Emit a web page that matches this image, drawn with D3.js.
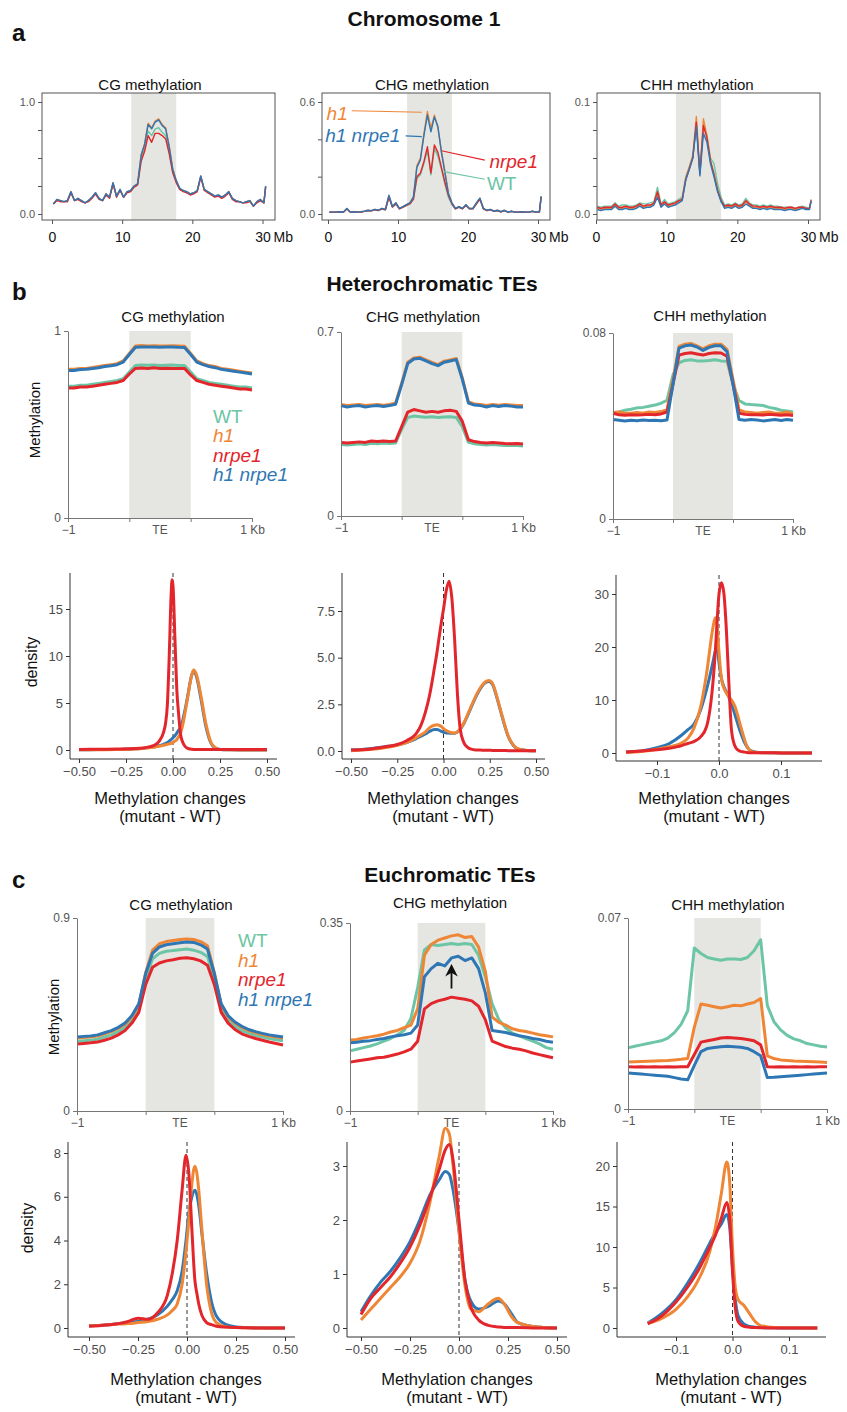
<!DOCTYPE html>
<html><head><meta charset="utf-8">
<script src="https://cdn.jsdelivr.net/npm/d3@7/dist/d3.min.js"></script>
<style>html,body{margin:0;padding:0;background:#fff}</style>
</head><body>
<svg id="fig" width="847" height="1412" xmlns="http://www.w3.org/2000/svg"></svg>
<script>
// ================= DATA =================
const genotypes = ["WT", "h1", "nrpe1", "h1 nrpe1"];
const genoColors = ["#6cc5a5", "#ef8636", "#e3262c", "#2f77b4"];

// ---- a: chromosome 1 profiles (bins in Mb) ----
const chrTicksMb = [0, 10, 20, 30];
const centromereMb = [11.3, 17.7];
const chrBinMb = d3.range(61).map(i => 0.2 + 0.5 * i).concat([30.45]);

const chrCG_WT = [0.09,0.12,0.12,0.11,0.12,0.19,0.12,0.13,0.12,0.10, 0.12,0.15,0.18,0.14,0.12,0.17,0.15,0.27,0.16,0.21, 0.15,0.20,0.20,0.24,0.26,0.49,0.58,0.74,0.70,0.76, 0.77,0.73,0.70,0.56,0.38,0.29,0.22,0.21,0.19,0.18, 0.19,0.20,0.33,0.22,0.19,0.18,0.16,0.16,0.15,0.17, 0.19,0.14,0.12,0.11,0.10,0.11,0.12,0.07,0.11,0.12, 0.10,0.24];
const chrCG_h1 = [0.09,0.13,0.12,0.11,0.12,0.20,0.12,0.14,0.12,0.10, 0.12,0.15,0.19,0.14,0.12,0.18,0.15,0.28,0.16,0.22, 0.15,0.20,0.21,0.25,0.27,0.53,0.63,0.81,0.77,0.83, 0.85,0.80,0.77,0.61,0.41,0.30,0.23,0.21,0.20,0.18, 0.19,0.21,0.34,0.22,0.20,0.18,0.16,0.17,0.15,0.17, 0.20,0.14,0.12,0.11,0.10,0.11,0.12,0.07,0.11,0.13, 0.10,0.25];
const chrCG_nrpe1 = [0.09,0.12,0.11,0.11,0.11,0.19,0.12,0.13,0.11,0.10, 0.11,0.14,0.18,0.13,0.12,0.17,0.14,0.27,0.15,0.21, 0.15,0.19,0.20,0.24,0.26,0.47,0.56,0.70,0.64,0.72, 0.72,0.70,0.67,0.54,0.37,0.28,0.22,0.20,0.19,0.17, 0.18,0.20,0.33,0.21,0.19,0.17,0.15,0.16,0.14,0.16, 0.19,0.13,0.11,0.11,0.10,0.10,0.11,0.07,0.10,0.12, 0.10,0.24];
const chrCG_h1nrpe1 = [0.09,0.13,0.12,0.11,0.12,0.20,0.12,0.14,0.12,0.10, 0.12,0.15,0.19,0.14,0.12,0.18,0.15,0.28,0.16,0.22, 0.15,0.20,0.21,0.25,0.27,0.52,0.62,0.80,0.76,0.82, 0.84,0.79,0.76,0.60,0.40,0.30,0.23,0.21,0.20,0.18, 0.19,0.21,0.34,0.22,0.20,0.18,0.16,0.17,0.15,0.17, 0.20,0.14,0.12,0.11,0.10,0.11,0.12,0.07,0.11,0.13, 0.10,0.25];

const chrCHG_WT = [0.01,0.01,0.01,0.011,0.01,0.027,0.01,0.011,0.01,0.011, 0.014,0.018,0.017,0.022,0.018,0.027,0.022,0.088,0.036,0.053, 0.027,0.036,0.045,0.053,0.078,0.19,0.21,0.27,0.34,0.21, 0.35,0.31,0.24,0.16,0.09,0.05,0.027,0.036,0.027,0.045, 0.027,0.027,0.053,0.078,0.027,0.018,0.022,0.014,0.018,0.011, 0.018,0.01,0.014,0.01,0.01,0.011,0.01,0.01,0.014,0.01, 0.011,0.088];
const chrCHG_h1 = [0.01,0.01,0.01,0.012,0.01,0.03,0.01,0.012,0.01,0.012, 0.015,0.02,0.018,0.025,0.02,0.03,0.025,0.10,0.04,0.06, 0.03,0.04,0.05,0.06,0.09,0.26,0.30,0.43,0.55,0.46, 0.53,0.46,0.34,0.23,0.11,0.06,0.03,0.04,0.03,0.05, 0.03,0.03,0.06,0.085,0.03,0.02,0.025,0.015,0.02,0.012, 0.02,0.01,0.015,0.01,0.01,0.012,0.01,0.01,0.015,0.01, 0.012,0.095];
const chrCHG_nrpe1 = [0.01,0.01,0.01,0.011,0.01,0.028,0.01,0.011,0.01,0.011, 0.014,0.018,0.017,0.023,0.019,0.028,0.023,0.09,0.037,0.055, 0.028,0.037,0.046,0.055,0.08,0.20,0.22,0.28,0.36,0.22, 0.37,0.33,0.25,0.17,0.10,0.055,0.028,0.037,0.028,0.046, 0.028,0.028,0.055,0.08,0.028,0.018,0.023,0.014,0.018,0.011, 0.018,0.01,0.014,0.01,0.01,0.011,0.01,0.01,0.014,0.01, 0.011,0.09];
const chrCHG_h1nrpe1 = [0.01,0.01,0.01,0.012,0.01,0.03,0.01,0.012,0.01,0.012, 0.015,0.02,0.018,0.025,0.02,0.03,0.025,0.10,0.04,0.06, 0.03,0.04,0.05,0.06,0.09,0.25,0.29,0.42,0.53,0.44, 0.52,0.47,0.33,0.22,0.11,0.06,0.03,0.04,0.03,0.05, 0.03,0.03,0.06,0.085,0.03,0.02,0.025,0.015,0.02,0.012, 0.02,0.01,0.015,0.01,0.01,0.012,0.01,0.01,0.015,0.01, 0.012,0.095];

const chrCHH_WT = [0.007,0.006,0.007,0.007,0.007,0.010,0.007,0.008,0.008,0.007, 0.007,0.008,0.010,0.009,0.009,0.010,0.011,0.024,0.009,0.013, 0.009,0.010,0.011,0.013,0.015,0.033,0.042,0.052,0.080,0.038, 0.078,0.070,0.050,0.045,0.027,0.015,0.008,0.009,0.008,0.010, 0.008,0.009,0.014,0.010,0.008,0.008,0.007,0.008,0.007,0.008, 0.007,0.007,0.006,0.006,0.006,0.006,0.005,0.006,0.007,0.006, 0.005,0.012];
const chrCHH_h1 = [0.005,0.004,0.005,0.005,0.005,0.008,0.005,0.005,0.006,0.005, 0.005,0.006,0.008,0.006,0.007,0.007,0.009,0.017,0.007,0.010, 0.007,0.008,0.009,0.011,0.013,0.032,0.042,0.052,0.087,0.036, 0.085,0.070,0.048,0.036,0.022,0.012,0.006,0.007,0.006,0.008, 0.006,0.007,0.011,0.008,0.006,0.006,0.005,0.006,0.005,0.006, 0.005,0.005,0.005,0.004,0.005,0.005,0.004,0.005,0.006,0.005, 0.005,0.013];
const chrCHH_nrpe1 = [0.006,0.005,0.006,0.006,0.006,0.009,0.006,0.006,0.007,0.006, 0.006,0.007,0.009,0.007,0.008,0.008,0.010,0.020,0.008,0.011, 0.008,0.009,0.010,0.012,0.013,0.031,0.040,0.050,0.082,0.036, 0.079,0.068,0.047,0.035,0.021,0.012,0.007,0.008,0.007,0.009, 0.007,0.008,0.012,0.009,0.007,0.007,0.006,0.007,0.006,0.007, 0.006,0.006,0.006,0.005,0.006,0.006,0.005,0.006,0.006,0.005, 0.005,0.012];
const chrCHH_h1nrpe1 = [0.004,0.003,0.004,0.004,0.004,0.007,0.004,0.004,0.005,0.004, 0.004,0.005,0.007,0.005,0.006,0.006,0.008,0.015,0.006,0.009, 0.006,0.007,0.008,0.010,0.012,0.030,0.040,0.050,0.078,0.034, 0.072,0.064,0.045,0.033,0.020,0.011,0.005,0.006,0.005,0.007, 0.005,0.006,0.009,0.007,0.005,0.005,0.004,0.005,0.004,0.005, 0.004,0.004,0.004,0.003,0.004,0.004,0.003,0.004,0.005,0.004, 0.004,0.012];

// ---- b/c: TE metaplots (bins: 0-1 upstream, 1-2 TE body, 2-3 downstream) ----
const metaBinPos = d3.range(31).map(i => i / 10);
const metaTickLabels = ["\u22121", "", "", "1 Kb"];

const metaHetCG_WT = [0.705,0.705,0.71,0.71,0.715,0.72,0.725,0.73,0.735,0.745, 0.78,0.815,0.818,0.817,0.818,0.816,0.817,0.818,0.816,0.815, 0.78,0.745,0.735,0.725,0.72,0.715,0.71,0.705,0.70,0.70,0.695];
const metaHetCG_h1 = [0.795,0.795,0.80,0.80,0.805,0.81,0.815,0.82,0.825,0.84, 0.88,0.92,0.922,0.92,0.921,0.92,0.92,0.921,0.92,0.918, 0.88,0.84,0.825,0.815,0.81,0.80,0.795,0.79,0.785,0.78,0.775];
const metaHetCG_nrpe1 = [0.695,0.695,0.70,0.70,0.705,0.71,0.715,0.72,0.725,0.735, 0.77,0.80,0.802,0.80,0.803,0.80,0.801,0.80,0.80,0.80, 0.765,0.735,0.725,0.715,0.71,0.705,0.70,0.695,0.69,0.69,0.685];
const metaHetCG_h1nrpe1 = [0.789,0.789,0.794,0.795,0.799,0.804,0.81,0.814,0.82,0.834, 0.874,0.913,0.915,0.914,0.915,0.913,0.914,0.915,0.913,0.912, 0.874,0.834,0.82,0.81,0.804,0.795,0.79,0.785,0.78,0.775,0.77];

const metaHetCHG_WT = [0.272,0.27,0.272,0.275,0.272,0.277,0.275,0.278,0.276,0.278, 0.33,0.375,0.38,0.378,0.376,0.378,0.375,0.377,0.378,0.375, 0.34,0.28,0.275,0.272,0.27,0.272,0.27,0.268,0.268,0.268,0.266];
const metaHetCHG_h1 = [0.424,0.42,0.422,0.424,0.42,0.422,0.424,0.421,0.424,0.43, 0.505,0.585,0.601,0.604,0.594,0.584,0.576,0.589,0.594,0.599, 0.525,0.435,0.426,0.424,0.42,0.424,0.421,0.424,0.422,0.42,0.42];
const metaHetCHG_nrpe1 = [0.28,0.278,0.28,0.282,0.28,0.285,0.283,0.285,0.283,0.285, 0.34,0.395,0.405,0.40,0.395,0.398,0.395,0.40,0.402,0.398, 0.36,0.29,0.283,0.28,0.278,0.28,0.278,0.276,0.275,0.276,0.274];
const metaHetCHG_h1nrpe1 = [0.42,0.415,0.418,0.42,0.415,0.418,0.42,0.417,0.42,0.425, 0.50,0.58,0.597,0.60,0.59,0.58,0.572,0.585,0.59,0.595, 0.52,0.43,0.422,0.42,0.415,0.42,0.417,0.42,0.418,0.415,0.415];

const metaHetCHH_WT = [0.0455,0.046,0.0468,0.0472,0.0478,0.048,0.0485,0.049,0.0498,0.051, 0.062,0.0672,0.0682,0.0685,0.068,0.068,0.0682,0.0685,0.068,0.0678, 0.058,0.051,0.0495,0.0492,0.049,0.0488,0.048,0.0475,0.0468,0.0465,0.046];
const metaHetCHH_h1 = [0.0458,0.046,0.0455,0.0455,0.0458,0.0455,0.046,0.0458,0.0462,0.047, 0.06,0.0742,0.0752,0.0755,0.0745,0.0732,0.0745,0.0752,0.0752,0.073, 0.06,0.047,0.046,0.0458,0.0455,0.0458,0.046,0.0455,0.0455,0.046,0.0452];
const metaHetCHH_nrpe1 = [0.0455,0.0448,0.0446,0.0448,0.0447,0.0448,0.045,0.0448,0.0452,0.046, 0.058,0.0705,0.0712,0.0715,0.071,0.0705,0.0712,0.0715,0.0714,0.070, 0.058,0.0455,0.045,0.0448,0.0448,0.0447,0.045,0.0448,0.0446,0.0448,0.0445];
const metaHetCHH_h1nrpe1 = [0.0428,0.0425,0.0422,0.0425,0.0423,0.0426,0.0424,0.0425,0.0423,0.0426, 0.058,0.0735,0.0745,0.0748,0.074,0.0725,0.0738,0.0745,0.0745,0.072, 0.058,0.0428,0.0425,0.0428,0.0426,0.0422,0.0425,0.0428,0.0424,0.0428,0.0425];

const metaEuCG_WT = [0.325,0.328,0.33,0.335,0.345,0.355,0.37,0.39,0.425,0.48, 0.62,0.71,0.735,0.745,0.748,0.752,0.755,0.75,0.74,0.72, 0.62,0.48,0.425,0.395,0.375,0.362,0.352,0.345,0.338,0.332,0.328];
const metaEuCG_h1 = [0.34,0.343,0.345,0.35,0.36,0.37,0.385,0.405,0.44,0.495, 0.645,0.75,0.78,0.79,0.795,0.80,0.802,0.80,0.79,0.77, 0.645,0.495,0.44,0.41,0.39,0.375,0.365,0.357,0.35,0.345,0.34];
const metaEuCG_nrpe1 = [0.312,0.315,0.318,0.322,0.33,0.34,0.355,0.375,0.41,0.46, 0.59,0.67,0.69,0.70,0.705,0.712,0.715,0.71,0.70,0.68, 0.59,0.46,0.41,0.38,0.36,0.348,0.338,0.33,0.322,0.315,0.308];
const metaEuCG_h1nrpe1 = [0.345,0.348,0.35,0.355,0.365,0.375,0.39,0.41,0.445,0.50, 0.64,0.735,0.765,0.775,0.78,0.785,0.788,0.786,0.775,0.755, 0.64,0.50,0.445,0.415,0.395,0.38,0.37,0.362,0.355,0.35,0.345];

const metaEuCHG_WT = [0.112,0.115,0.118,0.121,0.125,0.13,0.135,0.142,0.15,0.172, 0.23,0.30,0.31,0.308,0.31,0.312,0.31,0.312,0.31,0.29, 0.25,0.20,0.17,0.155,0.145,0.14,0.135,0.13,0.125,0.118,0.115];
const metaEuCHG_h1 = [0.132,0.133,0.136,0.138,0.14,0.143,0.147,0.15,0.155,0.16, 0.19,0.29,0.31,0.318,0.322,0.326,0.328,0.323,0.325,0.305, 0.26,0.175,0.165,0.16,0.153,0.15,0.148,0.145,0.142,0.14,0.138];
const metaEuCHG_nrpe1 = [0.091,0.093,0.095,0.097,0.099,0.10,0.103,0.106,0.11,0.115, 0.13,0.19,0.20,0.205,0.208,0.212,0.21,0.208,0.205,0.195, 0.17,0.13,0.125,0.12,0.117,0.115,0.112,0.108,0.105,0.102,0.099];
const metaEuCHG_h1nrpe1 = [0.127,0.128,0.13,0.131,0.133,0.135,0.138,0.14,0.142,0.145, 0.16,0.25,0.265,0.275,0.27,0.285,0.288,0.28,0.285,0.265, 0.22,0.15,0.148,0.146,0.143,0.14,0.138,0.135,0.133,0.13,0.128];

const metaEuCHH_WT = [0.0224,0.023,0.0235,0.024,0.0245,0.025,0.026,0.028,0.031,0.036, 0.059,0.057,0.0555,0.055,0.0545,0.055,0.055,0.0548,0.0555,0.058, 0.062,0.038,0.032,0.029,0.027,0.0257,0.025,0.024,0.0235,0.023,0.0227];
const metaEuCHH_h1 = [0.0172,0.0173,0.0174,0.0175,0.0176,0.0177,0.0178,0.018,0.0182,0.0185, 0.03,0.0385,0.038,0.0375,0.037,0.0375,0.038,0.0378,0.0385,0.039, 0.0405,0.0195,0.0185,0.018,0.0178,0.0176,0.0175,0.0174,0.0173,0.0172,0.017];
const metaEuCHH_nrpe1 = [0.0155,0.0154,0.0155,0.0154,0.0155,0.0154,0.0155,0.0154,0.0155,0.0155, 0.02,0.0245,0.025,0.0255,0.026,0.0262,0.026,0.0258,0.0255,0.025, 0.0235,0.0155,0.0154,0.0155,0.0154,0.0155,0.0154,0.0155,0.0154,0.0155,0.0155];
const metaEuCHH_h1nrpe1 = [0.0132,0.013,0.0128,0.0126,0.0124,0.0122,0.012,0.0115,0.011,0.0107, 0.016,0.021,0.0222,0.0225,0.0228,0.023,0.0228,0.0226,0.0222,0.021, 0.0195,0.0115,0.0116,0.0118,0.012,0.0122,0.0124,0.0126,0.0128,0.013,0.0132];

// ---- b/c: density of methylation change (mutant - WT) ----
const densHetCG_x = [-0.5,-0.4,-0.3,-0.2,-0.15,-0.1,-0.075,-0.05,-0.04,-0.03,-0.02,-0.01,-0.005,0,0.01,0.02,0.03,0.04,0.05,0.06,0.075,0.1,0.11,0.125,0.15,0.175,0.2,0.225,0.25,0.3,0.4,0.5];
const densHetCG_h1 = [0.02,0.03,0.05,0.1,0.2,0.3,0.4,0.5,0.55,0.6,0.65,0.7,0.75,0.8,0.95,1.1,1.4,1.8,2.5,3.5,5.2,8.0,8.5,8.0,5.6,2.8,0.9,0.25,0.06,0.02,0.01,0.01];
const densHetCG_nrpe1 = [0.05,0.08,0.1,0.15,0.25,0.5,0.9,1.9,2.8,4.8,10,16.5,18.1,17.5,12,6.5,3.8,1.7,0.9,0.5,0.2,0.08,0.06,0.05,0.05,0.05,0.05,0.05,0.05,0.05,0.05,0.05];
const densHetCG_h1nrpe1 = [0.02,0.04,0.06,0.12,0.2,0.35,0.45,0.6,0.7,0.8,0.95,1.1,1.2,1.3,1.5,1.8,2.1,2.4,3.0,3.9,5.4,8.0,8.4,7.8,5.3,2.5,0.8,0.2,0.05,0.02,0.01,0.01];

const densHetCHG_x = [-0.5,-0.4,-0.3,-0.25,-0.2,-0.15,-0.125,-0.1,-0.075,-0.05,-0.035,-0.025,-0.01,0,0.015,0.03,0.045,0.06,0.075,0.09,0.11,0.13,0.15,0.175,0.2,0.225,0.245,0.265,0.28,0.3,0.325,0.35,0.375,0.4,0.45,0.5];
const densHetCHG_h1 = [0.02,0.08,0.2,0.3,0.45,0.7,0.85,1.0,1.25,1.38,1.4,1.38,1.3,1.2,1.1,1.02,0.98,0.97,1.03,1.18,1.5,1.95,2.4,2.95,3.4,3.7,3.78,3.62,3.2,2.5,1.6,0.8,0.35,0.12,0.03,0.01];
const densHetCHG_nrpe1 = [0.05,0.1,0.25,0.35,0.55,0.9,1.3,2.0,3.0,4.4,5.3,6.0,7.0,7.6,8.6,9.1,8.2,6.0,3.1,1.2,0.45,0.2,0.1,0.06,0.05,0.04,0.04,0.03,0.03,0.03,0.03,0.02,0.02,0.02,0.02,0.02];
const densHetCHG_h1nrpe1 = [0.05,0.12,0.25,0.32,0.45,0.65,0.78,0.9,1.05,1.15,1.15,1.12,1.05,1.0,0.97,0.96,0.95,0.95,1.01,1.16,1.47,1.9,2.35,2.9,3.35,3.65,3.72,3.57,3.15,2.45,1.55,0.78,0.33,0.11,0.03,0.01];

const densHetCHH_x = [-0.15,-0.125,-0.1,-0.08,-0.06,-0.05,-0.04,-0.03,-0.02,-0.01,-0.006,-0.003,0,0.004,0.008,0.012,0.016,0.02,0.025,0.03,0.035,0.04,0.045,0.05,0.06,0.08,0.1,0.15];
const densHetCHH_h1 = [0.1,0.3,0.7,1.2,1.9,2.8,4.8,8.5,15,23.5,25.5,24,19,14,12.2,11.3,10.6,10.0,9.0,7.2,5.0,3.0,1.3,0.45,0.1,0.03,0.02,0.01];
const densHetCHH_nrpe1 = [0.2,0.4,0.6,0.9,1.4,1.8,2.2,3.0,5.0,13,19,25,30,32.1,30,23,13,4.5,1.5,0.6,0.3,0.2,0.1,0.06,0.05,0.03,0.02,0.01];
const densHetCHH_h1nrpe1 = [0.2,0.4,1.0,1.8,3.4,4.4,5.5,8,12,17,19.2,20,17,14,12.5,11.5,10.5,9.3,7.5,5.6,3.8,2.3,1.2,0.5,0.15,0.04,0.02,0.01];

const densEuCG_x = [-0.5,-0.45,-0.4,-0.35,-0.3,-0.25,-0.2,-0.15,-0.1,-0.075,-0.05,-0.025,-0.005,0.01,0.025,0.04,0.05,0.06,0.075,0.1,0.125,0.15,0.2,0.25,0.3,0.4,0.5];
const densEuCG_h1 = [0.1,0.12,0.15,0.18,0.2,0.25,0.3,0.4,0.6,0.8,1.1,2.0,3.5,5.0,6.6,7.4,7.1,6.3,4.6,2.0,0.7,0.25,0.05,0.02,0.01,0,0];
const densEuCG_nrpe1 = [0.08,0.1,0.15,0.2,0.3,0.45,0.4,0.7,1.5,2.5,4.0,6.3,7.9,7.0,4.5,2.2,1.6,1.1,0.6,0.25,0.15,0.08,0.04,0.02,0.01,0,0];
const densEuCG_h1nrpe1 = [0.1,0.12,0.15,0.2,0.25,0.3,0.4,0.6,1.0,1.3,1.7,2.6,4.0,5.3,6.0,6.3,6.1,5.6,4.4,2.5,1.2,0.55,0.15,0.05,0.02,0,0];

const densEuCHG_x = [-0.5,-0.45,-0.4,-0.35,-0.3,-0.25,-0.2,-0.15,-0.1,-0.07,-0.05,-0.03,0,0.03,0.06,0.1,0.15,0.2,0.23,0.27,0.3,0.4,0.5];
const densEuCHG_h1 = [0.15,0.35,0.55,0.75,0.95,1.2,1.6,2.3,3.2,3.7,3.6,3.0,1.8,0.8,0.35,0.3,0.45,0.55,0.45,0.2,0.1,0.02,0];
const densEuCHG_nrpe1 = [0.25,0.55,0.75,0.95,1.2,1.5,1.9,2.4,2.95,3.3,3.4,3.1,2.0,0.9,0.4,0.15,0.05,0.02,0.01,0.01,0.01,0,0];
const densEuCHG_h1nrpe1 = [0.3,0.6,0.85,1.05,1.3,1.6,2.0,2.45,2.75,2.9,2.85,2.55,1.8,0.9,0.5,0.35,0.4,0.5,0.45,0.25,0.1,0.02,0];

const densEuCHH_x = [-0.15,-0.125,-0.1,-0.08,-0.06,-0.04,-0.03,-0.02,-0.01,-0.005,0,0.005,0.01,0.02,0.03,0.04,0.05,0.075,0.1,0.15];
const densEuCHH_h1 = [0.6,1.2,2.3,3.8,6.0,9.5,12.5,16.5,20.5,18,10,5.0,3.5,2.8,1.8,0.8,0.3,0.05,0.02,0];
const densEuCHH_nrpe1 = [0.5,1.5,3.2,5.0,7.2,10,11.5,13.5,15.5,13.5,7.0,2.5,0.8,0.2,0.1,0.05,0.03,0.01,0,0];
const densEuCHH_h1nrpe1 = [0.6,1.8,3.5,5.5,7.8,10.5,11.8,12.8,14,12.5,7.5,3.5,1.5,0.5,0.2,0.1,0.05,0.02,0,0];

// ================= DRAWING =================
const svg = d3.select("#fig");
const FONT = "'Liberation Sans', Arial, Helvetica, sans-serif";
const BAND = "#e5e6e1";
const colorOf = d3.scaleOrdinal().domain(genotypes).range(genoColors);

function addText(x, y, s, o = {}) {
  const t = svg.append("text").attr("x", x).attr("y", y).text(s)
    .attr("font-family", FONT).attr("font-size", o.size || 14)
    .attr("fill", o.fill || "#111").attr("text-anchor", o.anchor || "middle");
  if (o.weight) t.attr("font-weight", o.weight);
  if (o.italic) t.attr("font-style", "italic");
  if (o.rotate) t.attr("transform", `rotate(-90,${x},${y})`);
  return t;
}
function styleAxis(sel, o) {
  sel.attr("font-family", null).attr("font-size", null);
  if (o.removeDomain) sel.select(".domain").remove();
  else sel.select(".domain").attr("stroke", o.line || "#444");
  sel.selectAll(".tick line").attr("stroke", o.line || "#444");
  sel.selectAll(".tick text").attr("font-family", FONT).attr("font-size", o.size || 12).attr("fill", o.fill || "#555");
}

// headings
addText(424, 26, "Chromosome 1", {size: 21, weight: "bold"});
addText(12, 41, "a", {size: 24, weight: "bold", anchor: "start"});
addText(432, 291, "Heterochromatic TEs", {size: 21, weight: "bold"});
addText(12, 300, "b", {size: 24, weight: "bold", anchor: "start"});
addText(450, 882, "Euchromatic TEs", {size: 21, weight: "bold"});
addText(12, 888, "c", {size: 24, weight: "bold", anchor: "start"});

// ---------- a ----------
function chromPanel(p) {
  const top = 93, bot = 220;
  const x = d3.scaleLinear().domain([0, 30]).range([p.x0, p.x30]);
  const y = d3.scaleLinear().domain([0, p.ymax]).range([214, 102]);
  const g = svg.append("g");
  g.append("rect").attr("x", x(centromereMb[0])).attr("y", top)
    .attr("width", x(centromereMb[1]) - x(centromereMb[0])).attr("height", bot - top).attr("fill", BAND);
  const line = d3.line().x((d, i) => x(chrBinMb[i])).y(d => y(d));
  p.series.forEach((vals, k) => g.append("path").attr("d", line(vals)).attr("fill", "none")
    .attr("stroke", colorOf(genotypes[k])).attr("stroke-width", 1.4).attr("stroke-linejoin", "round"));
  g.append("rect").attr("x", p.box[0]).attr("y", top).attr("width", p.box[1] - p.box[0])
    .attr("height", bot - top).attr("fill", "none").attr("stroke", "#555").attr("stroke-width", 1);
  const ya = g.append("g").attr("transform", `translate(${p.box[0]},0)`)
    .call(d3.axisLeft(y).tickValues(p.yticks).tickSize(4).tickPadding(3)
      .tickFormat(d => (d === 0 || d === p.ymax) ? d3.format(".1f")(d) : ""));
  styleAxis(ya, {removeDomain: true, size: 11, fill: "#555", line: "#555"});
  const xa = g.append("g").attr("transform", `translate(0,${bot})`)
    .call(d3.axisBottom(x).tickValues(chrTicksMb).tickSize(4).tickPadding(8).tickFormat(d3.format("d")));
  styleAxis(xa, {removeDomain: true, size: 14, fill: "#111", line: "#555"});
  addText(x(30) + 11, bot + 22, "Mb", {size: 14, anchor: "start"});
  addText(p.titleX, 90, p.title, {size: 15});
  return {x, y};
}
chromPanel({title: "CG methylation", titleX: 150, box: [42, 275], x0: 52, x30: 262.5, ymax: 1.0,
  yticks: [0, 0.25, 0.5, 0.75, 1.0], series: [chrCG_WT, chrCG_h1, chrCG_nrpe1, chrCG_h1nrpe1]});
const chgA = chromPanel({title: "CHG methylation", titleX: 432, box: [322, 550], x0: 328, x30: 538, ymax: 0.6,
  yticks: [0, 0.2, 0.4, 0.6], series: [chrCHG_WT, chrCHG_h1, chrCHG_nrpe1, chrCHG_h1nrpe1]});
chromPanel({title: "CHH methylation", titleX: 697, box: [597, 820], x0: 596, x30: 808, ymax: 0.1,
  yticks: [0, 0.025, 0.05, 0.075, 0.1], series: [chrCHH_WT, chrCHH_h1, chrCHH_nrpe1, chrCHH_h1nrpe1]});

// annotation leaders in CHG panel (data units)
const chgLabels = [
  {g: "h1", tx: -0.2, ty: 0.505, anchor: "start", l: [[3.4, 0.553], [13.4, 0.545]]},
  {g: "h1 nrpe1", tx: -0.4, ty: 0.387, anchor: "start", l: [[11.1, 0.418], [13.4, 0.414]]},
  {g: "nrpe1", tx: 30.0, ty: 0.246, anchor: "end", l: [[16.2, 0.339], [22.4, 0.289]]},
  {g: "WT", tx: 22.7, ty: 0.129, anchor: "start", l: [[16.5, 0.227], [22.4, 0.186]]}
];
chgLabels.forEach(a => {
  svg.append("line").attr("x1", chgA.x(a.l[0][0])).attr("y1", chgA.y(a.l[0][1]))
    .attr("x2", chgA.x(a.l[1][0])).attr("y2", chgA.y(a.l[1][1]))
    .attr("stroke", colorOf(a.g)).attr("stroke-width", 1.2);
  addText(chgA.x(a.tx), chgA.y(a.ty), a.g, {size: 19, fill: colorOf(a.g), anchor: a.anchor, italic: a.g !== "WT"});
});

// ---------- metaplots ----------
function metaPanel(p) {
  const x = d3.scaleLinear().domain([0, 3]).range([p.x0, p.x1]);
  const y = d3.scaleLinear().domain([0, p.ymax]).range([p.y0, p.yTop]);
  const g = svg.append("g");
  g.append("rect").attr("x", x(1)).attr("y", p.yTop).attr("width", x(2) - x(1)).attr("height", p.y0 - p.yTop).attr("fill", BAND);
  const line = d3.line().x((d, i) => x(metaBinPos[i])).y(d => y(d));
  p.series.forEach((vals, k) => g.append("path").attr("d", line(vals)).attr("fill", "none")
    .attr("stroke", colorOf(genotypes[k])).attr("stroke-width", 3).attr("stroke-linejoin", "round"));
  const ya = g.append("g").attr("transform", `translate(${p.x0},0)`)
    .call(d3.axisLeft(y).tickValues([0, p.ymax]).tickSize(4).tickSizeOuter(0).tickPadding(3)
      .tickFormat(d => d === 0 ? "0" : p.ymaxLabel));
  styleAxis(ya, {size: 12, fill: "#555", line: "#777"});
  const xa = g.append("g").attr("transform", `translate(0,${p.y0})`)
    .call(d3.axisBottom(x).tickValues([0, 1, 2, 3]).tickSize(4).tickSizeOuter(0).tickPadding(3)
      .tickFormat((d, i) => metaTickLabels[i]));
  styleAxis(xa, {size: 12, fill: "#555", line: "#777"});
  addText(x(1.5), p.y0 + 16, "TE", {size: 12, fill: "#555"});
  addText(p.titleX, p.titleY, p.title, {size: 15});
  return {x, y};
}
function legend(x, y0, step) {
  genotypes.forEach((gname, i) => addText(x, y0 + i * step, gname,
    {size: 19, fill: colorOf(gname), anchor: "start", italic: gname !== "WT"}));
}

metaPanel({title: "CG methylation", titleX: 173, titleY: 322, x0: 68, x1: 252, y0: 518, yTop: 331, ymax: 1, ymaxLabel: "1",
  series: [metaHetCG_WT, metaHetCG_h1, metaHetCG_nrpe1, metaHetCG_h1nrpe1]});
metaPanel({title: "CHG methylation", titleX: 423, titleY: 322, x0: 341, x1: 523, y0: 516, yTop: 332, ymax: 0.7, ymaxLabel: "0.7",
  series: [metaHetCHG_WT, metaHetCHG_h1, metaHetCHG_nrpe1, metaHetCHG_h1nrpe1]});
metaPanel({title: "CHH methylation", titleX: 710, titleY: 321, x0: 613, x1: 793, y0: 519, yTop: 333, ymax: 0.08, ymaxLabel: "0.08",
  series: [metaHetCHH_WT, metaHetCHH_h1, metaHetCHH_nrpe1, metaHetCHH_h1nrpe1]});
addText(40, 420, "Methylation", {size: 15, rotate: true});
legend(213, 423, 19.3);

metaPanel({title: "CG methylation", titleX: 181, titleY: 910, x0: 77, x1: 283, y0: 1111, yTop: 918, ymax: 0.9, ymaxLabel: "0.9",
  series: [metaEuCG_WT, metaEuCG_h1, metaEuCG_nrpe1, metaEuCG_h1nrpe1]});
const euCHG = metaPanel({title: "CHG methylation", titleX: 450, titleY: 908, x0: 350, x1: 553, y0: 1111, yTop: 923, ymax: 0.35, ymaxLabel: "0.35",
  series: [metaEuCHG_WT, metaEuCHG_h1, metaEuCHG_nrpe1, metaEuCHG_h1nrpe1]});
metaPanel({title: "CHH methylation", titleX: 728, titleY: 910, x0: 628, x1: 827, y0: 1109, yTop: 918, ymax: 0.07, ymaxLabel: "0.07",
  series: [metaEuCHH_WT, metaEuCHH_h1, metaEuCHH_nrpe1, metaEuCHH_h1nrpe1]});
addText(59, 1017, "Methylation", {size: 15, rotate: true});
legend(238, 947, 19.6);

// arrow in euchromatic CHG
svg.append("defs").append("marker").attr("id", "ah").attr("viewBox", "0 0 10 10").attr("refX", 5).attr("refY", 5)
  .attr("markerWidth", 7).attr("markerHeight", 7).attr("orient", "auto-start-reverse")
  .append("path").attr("d", "M0,0 L10,5 L0,10 L3,5 z").attr("fill", "#111");
svg.append("line").attr("x1", euCHG.x(1.5)).attr("x2", euCHG.x(1.5))
  .attr("y1", euCHG.y(0.228)).attr("y2", euCHG.y(0.262)).attr("stroke", "#111").attr("stroke-width", 1.8)
  .attr("marker-end", "url(#ah)");

// ---------- densities ----------
function densPanel(p) {
  const x = d3.scaleLinear().domain(p.xdom).range(p.xr);
  const y = d3.scaleLinear().domain([0, p.yref]).range([p.yzero, p.yrefPx]);
  const g = svg.append("g");
  g.append("line").attr("x1", x(0)).attr("x2", x(0)).attr("y1", p.top).attr("y2", p.bot)
    .attr("stroke", "#333").attr("stroke-width", 1).attr("stroke-dasharray", "4,3");
  const line = d3.line().curve(d3.curveMonotoneX).x((d, i) => x(p.grid[i])).y(d => y(d));
  p.series.forEach(([gname, vals]) => g.append("path").attr("d", line(vals)).attr("fill", "none")
    .attr("stroke", colorOf(gname)).attr("stroke-width", 3).attr("stroke-linejoin", "round"));
  g.append("line").attr("x1", p.left).attr("x2", p.left).attr("y1", p.top).attr("y2", p.bot).attr("stroke", "#333");
  g.append("line").attr("x1", p.left).attr("x2", p.right).attr("y1", p.bot).attr("y2", p.bot).attr("stroke", "#333");
  const ya = g.append("g").attr("transform", `translate(${p.left},0)`)
    .call(d3.axisLeft(y).tickValues(p.yticks).tickSize(4).tickPadding(3).tickFormat(d3.format(p.yfmt)));
  styleAxis(ya, {removeDomain: true, size: 13, fill: "#4d4d4d", line: "#333"});
  const xa = g.append("g").attr("transform", `translate(0,${p.bot})`)
    .call(d3.axisBottom(x).tickValues(p.xticks).tickSize(4).tickPadding(4).tickFormat(d3.format(p.xfmt)));
  styleAxis(xa, {removeDomain: true, size: 13, fill: "#4d4d4d", line: "#333"});
  addText(p.labX, p.labY, "Methylation changes", {size: 16.5});
  addText(p.labX, p.labY + 18, "(mutant - WT)", {size: 16.5});
}
const xt5 = [-0.5, -0.25, 0, 0.25, 0.5], xt1 = [-0.1, 0, 0.1];

densPanel({left: 70, right: 277, top: 573, bot: 759, xdom: [-0.5, 0.5], xr: [79, 267], yzero: 750, yref: 15, yrefPx: 609,
  yticks: [0, 5, 10, 15], yfmt: "d", xticks: xt5, xfmt: ".2f", grid: densHetCG_x, labX: 170, labY: 804,
  series: [["h1 nrpe1", densHetCG_h1nrpe1], ["h1", densHetCG_h1], ["nrpe1", densHetCG_nrpe1]]});
densPanel({left: 342, right: 545, top: 573, bot: 759, xdom: [-0.5, 0.5], xr: [351, 536], yzero: 751, yref: 7.5, yrefPx: 611,
  yticks: [0, 2.5, 5, 7.5], yfmt: ".1f", xticks: xt5, xfmt: ".2f", grid: densHetCHG_x, labX: 443, labY: 804,
  series: [["h1 nrpe1", densHetCHG_h1nrpe1], ["h1", densHetCHG_h1], ["nrpe1", densHetCHG_nrpe1]]});
densPanel({left: 616, right: 822, top: 575, bot: 761, xdom: [-0.1, 0.1], xr: [657, 781], yzero: 753, yref: 30, yrefPx: 594,
  yticks: [0, 10, 20, 30], yfmt: "d", xticks: xt1, xfmt: ".1f", grid: densHetCHH_x, labX: 714, labY: 804,
  series: [["h1 nrpe1", densHetCHH_h1nrpe1], ["h1", densHetCHH_h1], ["nrpe1", densHetCHH_nrpe1]]});
addText(37, 662, "density", {size: 16, rotate: true});

densPanel({left: 68, right: 295, top: 1142, bot: 1337, xdom: [-0.5, 0.5], xr: [89, 285], yzero: 1328, yref: 8, yrefPx: 1153,
  yticks: [0, 2, 4, 6, 8], yfmt: "d", xticks: xt5, xfmt: ".2f", grid: densEuCG_x, labX: 186, labY: 1385,
  series: [["h1 nrpe1", densEuCG_h1nrpe1], ["h1", densEuCG_h1], ["nrpe1", densEuCG_nrpe1]]});
densPanel({left: 347, right: 567, top: 1142, bot: 1337, xdom: [-0.5, 0.5], xr: [361, 557], yzero: 1328, yref: 3, yrefPx: 1166,
  yticks: [0, 1, 2, 3], yfmt: "d", xticks: xt5, xfmt: ".2f", grid: densEuCHG_x, labX: 457, labY: 1385,
  series: [["h1 nrpe1", densEuCHG_h1nrpe1], ["h1", densEuCHG_h1], ["nrpe1", densEuCHG_nrpe1]]});
densPanel({left: 617, right: 826, top: 1142, bot: 1337, xdom: [-0.1, 0.1], xr: [676, 789], yzero: 1328, yref: 20, yrefPx: 1166,
  yticks: [0, 5, 10, 15, 20], yfmt: "d", xticks: xt1, xfmt: ".1f", grid: densEuCHH_x, labX: 731, labY: 1385,
  series: [["h1 nrpe1", densEuCHH_h1nrpe1], ["h1", densEuCHH_h1], ["nrpe1", densEuCHH_nrpe1]]});
addText(33, 1228, "density", {size: 16, rotate: true});
</script>
</body></html>
